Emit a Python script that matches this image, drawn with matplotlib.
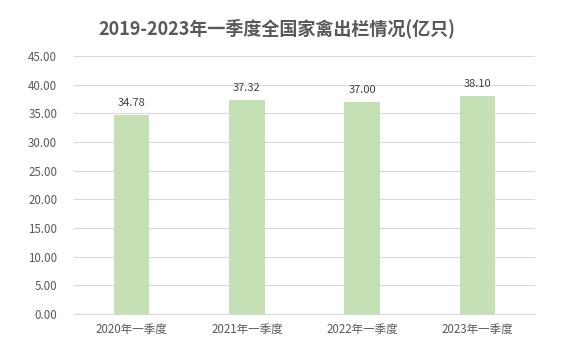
import matplotlib.pyplot as plt

plt.rcParams['font.family'] = ['Noto Sans CJK SC', 'DejaVu Sans']

# 数据
季度 = ["2020年一季度", "2021年一季度", "2022年一季度", "2023年一季度"]
出栏 = [34.78, 37.32, 37.00, 38.10]

fig = plt.figure(figsize=(5.64, 3.51), dpi=100)
ax = fig.add_axes([0.131, 0.105, 0.818, 0.735])

x = range(len(季度))
ax.bar(x, 出栏, width=0.31, color="#c5e0b4", zorder=2)
for i, v in zip(x, 出栏):
    ax.text(i, v + 1.2, f"{v:.2f}", ha="center", va="bottom", fontsize=8, color="#404040")

ax.set_xlim(-0.5, len(季度) - 0.5)
ax.set_ylim(0, 45)
ax.set_yticks(range(0, 46, 5))
ax.set_yticklabels([f"{t:.2f}" for t in range(0, 46, 5)])
ax.set_xticks(list(x))
ax.set_xticklabels(季度)
ax.tick_params(axis="both", length=0, labelsize=8.3, colors="#595959")
ax.tick_params(axis="x", pad=6)
ax.tick_params(axis="y", pad=12)
ax.grid(axis="y", color="#d9d9d9", linewidth=0.8, zorder=0)
for s in ["top", "right", "left"]:
    ax.spines[s].set_visible(False)
ax.spines["bottom"].set_color("#d9d9d9")

fig.text(0.49, 0.92, "2019-2023年一季度全国家禽出栏情况(亿只)", ha="center", va="center",
         fontsize=13, fontweight="bold", color="#595959")

fig.savefig("out.png", dpi=100)
